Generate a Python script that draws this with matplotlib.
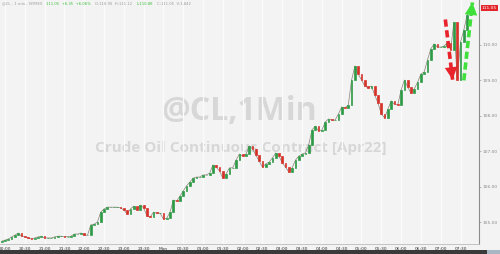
import pandas as pd
import matplotlib.pyplot as plt
from matplotlib.patches import Rectangle

# 5-min closes (Sun 19:55 -> Mon 07:45)
first_open = 104.44
closes = [
    104.46, 104.49, 104.52, 104.58, 104.63, 104.69, 104.60, 104.58, 104.55, 104.52,
    104.55, 104.58, 104.60, 104.55, 104.55, 104.55, 104.58, 104.60, 104.60, 104.58,
    104.59, 104.60, 104.66, 104.66, 104.69, 104.63, 104.63, 104.92, 104.94, 105.00,
    105.28, 105.37, 105.42, 105.42, 105.42, 105.42, 105.40, 105.34, 105.23, 105.37,
    105.45, 105.34, 105.48, 105.40, 105.17, 105.14, 105.28, 105.25, 105.25, 105.08,
    105.11, 105.28, 105.62, 105.59, 105.73, 105.88, 106.02, 106.13, 106.24, 106.27,
    106.27, 106.33, 106.33, 106.38, 106.61, 106.55, 106.44, 106.24, 106.36, 106.53,
    106.53, 106.75, 106.92, 106.86, 106.92, 107.15, 107.06, 106.89, 106.72, 106.55,
    106.64, 106.69, 106.81, 106.95, 106.86, 106.67, 106.55, 106.41, 106.53, 106.75,
    106.86, 106.92, 106.95, 107.18, 107.60, 107.71, 107.57, 107.60, 107.82, 107.91,
    107.88, 107.88, 108.05, 108.25, 108.22, 108.31, 109.01, 109.41, 109.18, 109.01,
    108.84, 108.79, 108.84, 108.59, 108.36, 108.05, 107.94, 108.19, 108.42, 108.33,
    108.31, 108.73, 109.01, 108.81, 108.64, 108.76, 108.95, 109.18, 109.24, 109.58,
    109.89, 110.03, 109.94, 109.94, 109.97, 110.06, 109.86, 110.65, 109.01, 110.08,
    110.42, 110.85, 111.10,
]
price_ticks = [105, 106, 107, 108, 109, 110]
last_label = '111.05'
title = '@CL,1Min'
subtitle = 'Crude Oil Continuous Contract [Apr22]'
header = [('@CL - 1 min - NYMEX', 'grey'),
          ('111.05  +6.35  +6.06%', 'green'),
          ('O:110.90  H:111.12', 'grey'),
          ('L:110.88', 'green'),
          ('C:111.05  V:1,842', 'grey')]

BG = '#f3f3f3'
UP = '#2f9a46'
DOWN = '#d6322a'


def main():
    times = pd.date_range('2022-03-20 19:55', periods=len(closes), freq='5min')
    opens = [first_open] + closes[:-1]
    heights = [c - o for o, c in zip(opens, closes)]
    colors = [UP if h >= 0 else DOWN for h in heights]

    fig = plt.figure(figsize=(5.0, 2.54), dpi=100)
    fig.patch.set_facecolor(BG)
    ax = fig.add_axes([0, 10 / 254, 479 / 500, 244 / 254])
    ax.set_facecolor(BG)

    # watermark
    ax.text(0.5, 0.545, title, transform=ax.transAxes, ha='center', va='center',
            fontsize=23, fontweight='bold', family='Open Sans', color='#d7d7d7', zorder=0)
    ax.text(0.503, 0.395, subtitle, transform=ax.transAxes, ha='center', va='center',
            fontsize=11, fontweight='bold', family='Open Sans', color='#d7d7d7', zorder=0)

    # thin path through the closes, then the candle bodies
    ax.plot(times, closes, color='#5a5040', lw=0.5, alpha=0.7, zorder=2)
    ax.bar(times, heights, bottom=opens, width=2.6 / 1440, color=colors,
           edgecolor=colors, linewidth=0.5, zorder=3)

    start = pd.Timestamp('2022-03-20 20:00')
    ax.set_xlim(start - pd.Timedelta(minutes=7.6), start + pd.Timedelta(minutes=718))
    ax.set_ylim(104.38, 111.27)

    ticks = pd.date_range('2022-03-20 20:00', '2022-03-21 07:30', freq='30min')
    labels = ['Mon' if t.hour == 0 and t.minute == 0 else t.strftime('%H:%M') for t in ticks]
    ax.set_xticks(ticks)
    ax.set_xticklabels(labels)
    ax.grid(axis='x', color='#fbfbfb', linewidth=0.9, zorder=1)
    ax.set_axisbelow(True)

    ax.yaxis.tick_right()
    ax.set_yticks(price_ticks)
    ax.set_yticklabels(['%.2f' % p for p in price_ticks])
    ax.tick_params(axis='y', labelsize=3.2, colors='#8a8a8a', length=1.5, width=0.4, pad=1)
    ax.tick_params(axis='x', labelsize=3.2, labelcolor='#333333', length=0, pad=1.8)

    for s in ['top', 'left']:
        ax.spines[s].set_visible(False)
    ax.spines['right'].set_color('#8c8c8c')
    ax.spines['right'].set_linewidth(0.8)
    ax.spines['bottom'].set_color('#bbbbbb')
    ax.spines['bottom'].set_linewidth(0.6)

    # last price tag
    ax.text(1.006, closes[-1] - 0.05, last_label, transform=ax.get_yaxis_transform(),
            fontsize=3.2, color='white', va='center', ha='left',
            bbox=dict(boxstyle='square,pad=0.25', fc='#e3262b', ec='none'), clip_on=False)

    # dashed arrows
    def dashed_arrow(t0, p0, t1, p1, col):
        x0 = pd.Timestamp('2022-03-21 ' + t0)
        x1 = pd.Timestamp('2022-03-21 ' + t1)
        ax.plot([x0, x1], [p0, p1], color=col, lw=2.6, dashes=(2.0, 1.0), zorder=5,
                dash_capstyle='butt')
        ax.annotate('', xy=(x1, p1), xytext=(x0 + (x1 - x0) * 0.8, p0 + (p1 - p0) * 0.8),
                    arrowprops=dict(arrowstyle='-|>,head_width=0.45,head_length=0.9',
                                    color=col, lw=0, mutation_scale=10,
                                    shrinkA=0, shrinkB=0), zorder=6)

    dashed_arrow('07:07', 110.72, '07:18', 109.02, '#e8232b')
    dashed_arrow('07:35', 109.00, '07:48', 111.20, '#3fe03a')

    # header line, laid out piece by piece
    renderer = fig.canvas.get_renderer()
    x = 2
    for s, c in header:
        t = fig.text(x / 500, 0.993, s, fontsize=2.7, va='top', ha='left',
                     color='#9a9a9a' if c == 'grey' else '#3bbf3b')
        x += t.get_window_extent(renderer).width + 4

    # bottom bar
    fig.add_artist(Rectangle((0, 0), 1, 4 / 254, transform=fig.transFigure,
                             facecolor='#3a3a3a', edgecolor='none'))
    fig.add_artist(Rectangle((487 / 500, 0), 13 / 500, 4 / 254, transform=fig.transFigure,
                             facecolor='#a9b6c4', edgecolor='none'))

    fig.savefig('out.png', dpi=100, facecolor=BG)


if __name__ == '__main__':
    main()
